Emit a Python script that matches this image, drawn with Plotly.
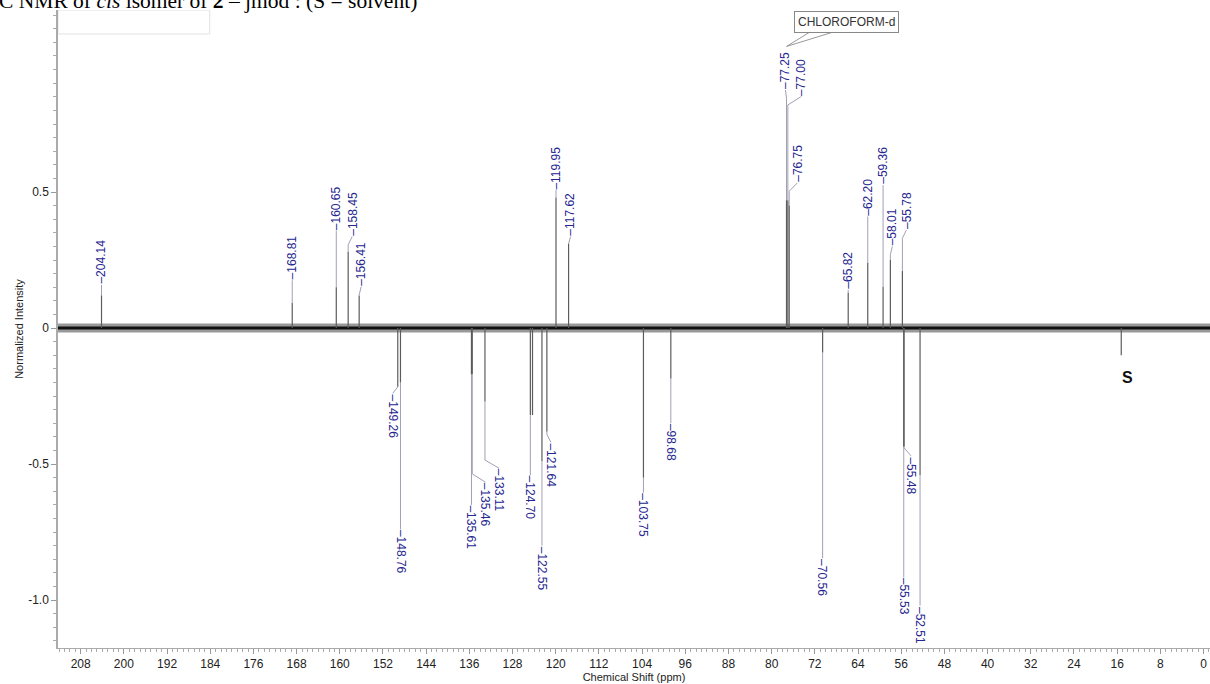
import plotly.graph_objects as go

# ---------------- data ----------------
# positive (up) peaks: chemical shift (ppm) and normalized intensity
pos_ppm = [204.14, 168.81, 160.65, 158.45, 156.41, 119.95, 117.62,
           77.25, 77.00, 76.75, 65.82, 62.20, 59.36, 58.01, 55.78]
pos_int = [0.12, 0.092, 0.15, 0.28, 0.12, 0.48, 0.31,
           0.47, 0.47, 0.45, 0.13, 0.24, 0.152, 0.25, 0.21]

# negative (down) peaks
neg_ppm = [149.26, 148.76, 135.61, 135.46, 133.11, 124.70, 122.55, 121.64,
           103.75, 98.68, 70.56, 55.53, 55.48, 52.51]
neg_int = [-0.216, -0.20, -0.17, -0.17, -0.27, -0.32, -0.49, -0.38,
           -0.55, -0.185, -0.09, -0.435, -0.435, -0.54]

# unlabeled lines
extra_ppm = [124.30]
extra_int = [-0.32]

# solvent peak (S)
solv_ppm = [15.24]
solv_int = [-0.10]

x_ticks = list(range(0, 209, 8))
y_ticks = [-1.0, -0.5, 0.0, 0.5]
y_ticktext = ["-1.0", "-0.5", "0", "0.5"]

# ---------------- layout helpers (label placement, not data) ----------------
X_RANGE = [212.2, -1.2]
Y_RANGE = [-1.176, 1.169]
PX_PER_PPM = 1152 / (X_RANGE[0] - X_RANGE[1])

# label anchor level (normalized intensity) and horizontal shift (px)
pos_label_level = [0.158, 0.176, 0.357, 0.336, 0.152, 0.507, 0.336,
                   0.875, 0.85, 0.533, 0.14, 0.41, 0.525, 0.30, 0.36]
pos_label_shift = [0, 0, 0, 4, 2, 0, 2, -1, 13, 8, 0, 0, 0, 2, 4]
neg_label_level = [-0.24, -0.74, -0.65, -0.566, -0.515, -0.54, -0.80, -0.42,
                   -0.605, -0.35, -0.846, -0.915, -0.47, -1.02]
neg_label_shift = [-5, 0, 0, 13, 14, 0, 0, 4, 0, 0, 0, 0, 7, 0]

LABEL_COLOR = "#26268f"
PEAK_COLOR = "#5c5c5c"
CONN_COLOR = "#a0a0b4"
FONT = "Arial, Liberation Sans, sans-serif"

fig = go.Figure()

# baseline noise band
fig.add_trace(go.Scatter(x=[X_RANGE[0], X_RANGE[1]], y=[0, 0], mode="lines",
                         line=dict(color="rgba(0,0,0,0.4)", width=9),
                         hoverinfo="skip", showlegend=False))
fig.add_trace(go.Scatter(x=[X_RANGE[0], X_RANGE[1]], y=[0, 0], mode="lines",
                         line=dict(color="#111111", width=3),
                         hoverinfo="skip", showlegend=False))

# connectors
cx, cy = [], []
def connector(p, h, level, shift):
    lx = p - shift / PX_PER_PPM
    sgn = 1 if level > 0 else -1
    if shift == 0:
        cx.extend([p, p, None]); cy.extend([h, level, None])
    else:
        mid = level - sgn * 0.03
        if abs(mid) < abs(h):
            mid = h
        cx.extend([p, p, lx, None]); cy.extend([h, mid, level, None])

for p, h, lv, s in zip(pos_ppm, pos_int, pos_label_level, pos_label_shift):
    connector(p, h, lv, s)
for p, h, lv, s in zip(neg_ppm, neg_int, neg_label_level, neg_label_shift):
    connector(p, h, lv, s)
fig.add_trace(go.Scatter(x=cx, y=cy, mode="lines", line=dict(color=CONN_COLOR, width=1),
                         hoverinfo="skip", showlegend=False))

# peak lines
px_, py_ = [], []
for p, h in zip(pos_ppm + neg_ppm + extra_ppm + solv_ppm,
                pos_int + neg_int + extra_int + solv_int):
    px_.extend([p, p, None]); py_.extend([0, h, None])
fig.add_trace(go.Scatter(x=px_, y=py_, mode="lines", line=dict(color=PEAK_COLOR, width=1.2),
                         hoverinfo="skip", showlegend=False))

annotations = []
for p, lv, s in zip(pos_ppm, pos_label_level, pos_label_shift):
    annotations.append(dict(x=p - s / PX_PER_PPM, y=lv, xref="x", yref="y",
                            text="–" + f"{p:.2f}", textangle=-90, showarrow=False,
                            xanchor="center", yanchor="bottom", borderpad=0,
                            font=dict(family=FONT, size=12, color=LABEL_COLOR)))
for p, lv, s in zip(neg_ppm, neg_label_level, neg_label_shift):
    annotations.append(dict(x=p - s / PX_PER_PPM, y=lv, xref="x", yref="y",
                            text="–" + f"{p:.2f}", textangle=90, showarrow=False,
                            xanchor="center", yanchor="top", borderpad=0,
                            font=dict(family=FONT, size=12, color=LABEL_COLOR)))

# solvent marker
annotations.append(dict(x=solv_ppm[0] - 1.2, y=-0.18, xref="x", yref="y", text="<b>S</b>",
                        showarrow=False, xanchor="center", yanchor="middle",
                        font=dict(family=FONT, size=16, color="#111111")))

# CHLOROFORM-d callout
annotations.append(dict(x=66.2, y=1.124, xref="x", yref="y", text="CHLOROFORM-d",
                        showarrow=False, xanchor="center", yanchor="middle",
                        bordercolor="#888888", borderwidth=1, borderpad=3, bgcolor="white",
                        font=dict(family=FONT, size=12, color="#333333")))

# title (partly cut off at top, as in the reference)
annotations.append(dict(x=0, y=1, xref="paper", yref="paper",
                        text="<sup>13</sup>C NMR of <i>cis</i> isomer of <b>2</b> – jmod : (S = solvent)",
                        showarrow=False, xanchor="left", yanchor="bottom", xshift=-75, yshift=-4,
                        borderpad=0,
                        font=dict(family="Liberation Serif, Times New Roman, serif", size=21.5,
                                  color="#000000")))

shapes = [dict(type="rect", xref="x", yref="y", x0=X_RANGE[0], x1=184.1, y0=1.081, y1=Y_RANGE[1],
               line=dict(color="#e2e2e2", width=1))]
# callout pointer (pixel offsets from the CDCl3 peak point)
for x1p in (23.4, 46.7):
    shapes.append(dict(type="line", xref="x", yref="y", xsizemode="pixel", ysizemode="pixel",
                       xanchor=77.25, yanchor=1.035, x0=0, y0=0, x1=x1p, y1=14.4,
                       line=dict(color="#999999", width=1)))

fig.update_layout(
    width=1210, height=684,
    margin=dict(l=58, r=0, t=10, b=36),
    paper_bgcolor="white", plot_bgcolor="white",
    showlegend=False,
    annotations=annotations, shapes=shapes,
    xaxis=dict(range=X_RANGE, tickvals=x_ticks, ticks="outside", ticklen=5, tickcolor="#999999",
               showline=True, linecolor="#aaaaaa", linewidth=1, showgrid=False, zeroline=False,
               tickfont=dict(family=FONT, size=12, color="#222222"),
               minor=dict(dtick=1, tick0=0, ticks="outside", ticklen=3, tickcolor="#aaaaaa"),
               title=dict(text="Chemical Shift (ppm)", standoff=2,
                          font=dict(family=FONT, size=11, color="#222222"))),
    yaxis=dict(range=Y_RANGE, tickvals=y_ticks, ticktext=y_ticktext, ticks="outside", ticklen=5,
               tickcolor="#999999", showline=True, linecolor="#aaaaaa", linewidth=1.5,
               showgrid=False, zeroline=False,
               tickfont=dict(family=FONT, size=12, color="#222222"),
               minor=dict(dtick=0.05, tick0=0, ticks="outside", ticklen=3, tickcolor="#aaaaaa"),
               title=dict(text="Normalized Intensity", standoff=2,
                          font=dict(family=FONT, size=11, color="#222222"))),
)

fig.write_html("out.html")
